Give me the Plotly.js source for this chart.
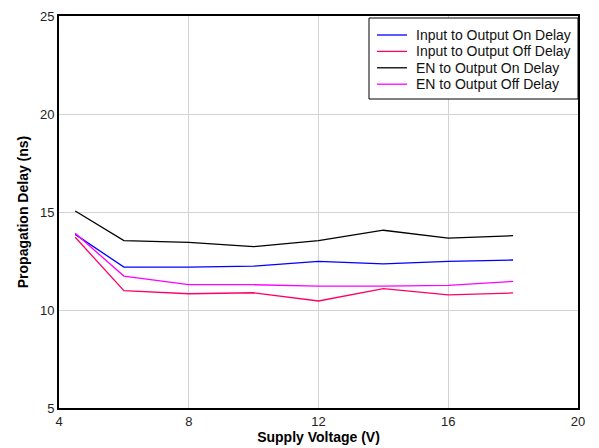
<!DOCTYPE html>
<html>
<head>
<meta charset="utf-8">
<script src="https://cdn.plot.ly/plotly-3.0.1.min.js"></script>
<style>html,body{margin:0;padding:0;background:#fff;}#chart{width:599px;height:448px;}</style>
</head>
<body>
<div id="chart"></div>
<script>
const voltage = [4.5, 6, 8, 10, 12, 14, 16, 18];
const inputOnDelay = [13.86, 12.19, 12.19, 12.24, 12.48, 12.35, 12.48, 12.55];
const inputOffDelay = [13.71, 10.99, 10.83, 10.88, 10.46, 11.09, 10.77, 10.87];
const enOnDelay = [15.05, 13.54, 13.45, 13.23, 13.54, 14.07, 13.67, 13.79];
const enOffDelay = [13.91, 11.73, 11.29, 11.29, 11.22, 11.22, 11.26, 11.46];
const seriesNames = ["Input to Output On Delay", "Input to Output Off Delay", "EN to Output On Delay", "EN to Output Off Delay"];
const xTicks = [4, 8, 12, 16, 20];
const yTicks = [5, 10, 15, 20, 25];

const colors = ["#0000ff", "#ff0066", "#000000", "#ff00ff"];
const ys = [inputOnDelay, inputOffDelay, enOnDelay, enOffDelay];
const traces = ys.map((y, i) => ({
  x: voltage, y: y, name: seriesNames[i], type: "scatter", mode: "lines",
  line: {color: colors[i], width: 1.3}
}));

// Legend box drawn in paper coordinates (compact row spacing like the original)
const W = 599, H = 448, M = {l: 59, r: 21, t: 16, b: 40};
const pw = W - M.l - M.r, ph = H - M.t - M.b;
const px = x => (x - M.l) / pw;
const py = y => 1 - (y - M.t) / ph;
const shapes = [{type: "rect", xref: "paper", yref: "paper",
  x0: px(369), x1: 1, y0: py(99), y1: py(18),
  line: {color: "#000", width: 1}, fillcolor: "#fff", layer: "above"}];
const annotations = [];
seriesNames.forEach((name, i) => {
  const yc = 35 + i * 16.4;
  shapes.push({type: "line", xref: "paper", yref: "paper",
    x0: px(377), x1: px(407), y0: py(yc), y1: py(yc),
    line: {color: colors[i], width: 1.3}, layer: "above"});
  annotations.push({xref: "paper", yref: "paper", x: px(414), y: py(yc),
    xanchor: "left", yanchor: "middle", showarrow: false, text: name,
    font: {size: 14, color: "#111"}});
});

const layout = {
  width: W, height: H,
  margin: M,
  paper_bgcolor: "#fff", plot_bgcolor: "#fff",
  font: {family: "'Liberation Sans', Arial, sans-serif", size: 13, color: "#222"},
  showlegend: false,
  shapes: shapes, annotations: annotations,
  xaxis: {range: [4, 20], tickvals: xTicks, ticktext: xTicks.map(String),
    showgrid: true, gridcolor: "#d3d3d3", gridwidth: 1, zeroline: false,
    showline: true, linecolor: "#000", linewidth: 2, mirror: true, ticks: "",
    title: {text: "<b>Supply Voltage (V)</b>", font: {size: 14, color: "#000"}, standoff: 2}},
  yaxis: {range: [5, 25], tickvals: yTicks, ticktext: yTicks.map(String),
    showgrid: true, gridcolor: "#d3d3d3", gridwidth: 1, zeroline: false,
    showline: true, linecolor: "#000", linewidth: 2, mirror: true, ticks: "",
    title: {text: "<b>Propagation Delay (ns)</b>", font: {size: 14, color: "#000"}, standoff: 8}}
};
Plotly.newPlot("chart", traces, layout, {displayModeBar: false, staticPlot: true});
</script>
</body>
</html>
